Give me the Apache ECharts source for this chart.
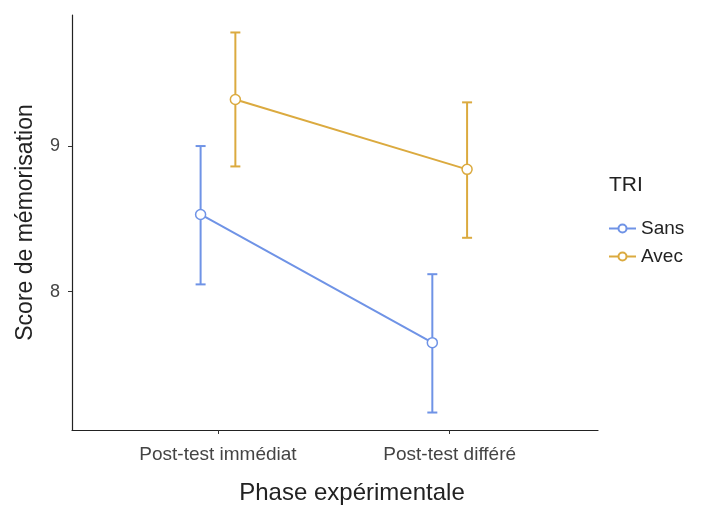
<!DOCTYPE html>
<html><head><meta charset="utf-8">
<script src="https://cdn.jsdelivr.net/npm/echarts@6/dist/echarts.min.js"></script>
<style>html,body{margin:0;padding:0;background:#fff}#c{width:707px;height:505px}</style>
</head><body><div id="c"></div>
<script>
const categories = ['Post-test immédiat', 'Post-test différé'];
const groups = ['Sans', 'Avec'];
const sansMean = [8.53, 7.65];
const sansLow = [8.05, 7.17];
const sansHigh = [9.00, 8.12];
const avecMean = [9.32, 8.84];
const avecLow = [8.86, 8.37];
const avecHigh = [9.78, 9.30];
const yTicks = [8, 9];

const colors = {Sans: '#6f93e6', Avec: '#dbaa3f'};
const dodge = 0.075;
const font = "'Liberation Sans', Arial, sans-serif";

function pts(mean, off) { return mean.map((v, i) => [i + 1 + off, v]); }
function bars(low, high, off) { return low.map((v, i) => [i + 1 + off, v, high[i]]); }

function errSeries(name, data, color) {
  return {
    type: 'custom', name: name, data: data, z: 2,
    renderItem: function (params, api) {
      const x = api.value(0);
      const lo = api.coord([x, api.value(1)]);
      const hi = api.coord([x, api.value(2)]);
      const w = 5;
      const st = {stroke: color, lineWidth: 2};
      return {type: 'group', children: [
        {type: 'line', shape: {x1: lo[0], y1: lo[1], x2: hi[0], y2: hi[1]}, style: st},
        {type: 'line', shape: {x1: lo[0] - w, y1: lo[1], x2: lo[0] + w, y2: lo[1]}, style: st},
        {type: 'line', shape: {x1: hi[0] - w, y1: hi[1], x2: hi[0] + w, y2: hi[1]}, style: st}
      ]};
    }
  };
}

function lineSeries(name, data, color) {
  return {
    type: 'line', name: name, data: data, z: 3,
    symbol: 'circle', symbolSize: 10,
    lineStyle: {color: color, width: 2},
    itemStyle: {color: '#fff', borderColor: color, borderWidth: 1.5},
    emphasis: {disabled: true}
  };
}

const chart = echarts.init(document.getElementById('c'));
chart.setOption({
  backgroundColor: '#fff',
  animation: false,
  grid: {left: 72, right: 109, top: 15, bottom: 75, containLabel: false, outerBoundsMode: 'none'},
  xAxis: {
    type: 'value', min: 0.37, max: 2.64,
    name: 'Phase expérimentale', nameLocation: 'middle', nameGap: 51,
    nameTextStyle: {fontFamily: font, fontSize: 24, color: '#222', padding: [0, 0, 0, 34]},
    axisLine: {lineStyle: {color: '#222', width: 1.2}},
    axisTick: {show: true, length: 4, customValues: [1, 2], lineStyle: {color: '#333'}},
    axisLabel: {customValues: [1, 2], formatter: v => categories[Math.round(v) - 1] || '',
      fontFamily: font, fontSize: 19, color: '#444', margin: 15},
    splitLine: {show: false}
  },
  yAxis: {
    type: 'value', min: 7.05, max: 9.9,
    name: 'Score de mémorisation', nameLocation: 'middle', nameGap: 35,
    nameTextStyle: {fontFamily: font, fontSize: 23, color: '#222'},
    axisLine: {show: true, lineStyle: {color: '#222', width: 1.2}},
    axisTick: {show: true, length: 4, customValues: yTicks, lineStyle: {color: '#333'}},
    axisLabel: {customValues: yTicks, fontFamily: font, fontSize: 18, color: '#444', margin: 12},
    splitLine: {show: false}
  },
  legend: {
    orient: 'vertical', left: 603, top: 214, itemGap: 9,
    itemWidth: 27, itemHeight: 10,
    data: groups,
    textStyle: {fontFamily: font, fontSize: 19, color: '#222'}
  },
  graphic: [{type: 'text', left: 609, top: 175,
    style: {text: 'TRI', fontFamily: font, fontSize: 21, fill: '#222'}}],
  series: [
    errSeries('errSans', bars(sansLow, sansHigh, -dodge), colors.Sans),
    errSeries('errAvec', bars(avecLow, avecHigh, dodge), colors.Avec),
    lineSeries('Sans', pts(sansMean, -dodge), colors.Sans),
    lineSeries('Avec', pts(avecMean, dodge), colors.Avec)
  ]
});
</script></body></html>
